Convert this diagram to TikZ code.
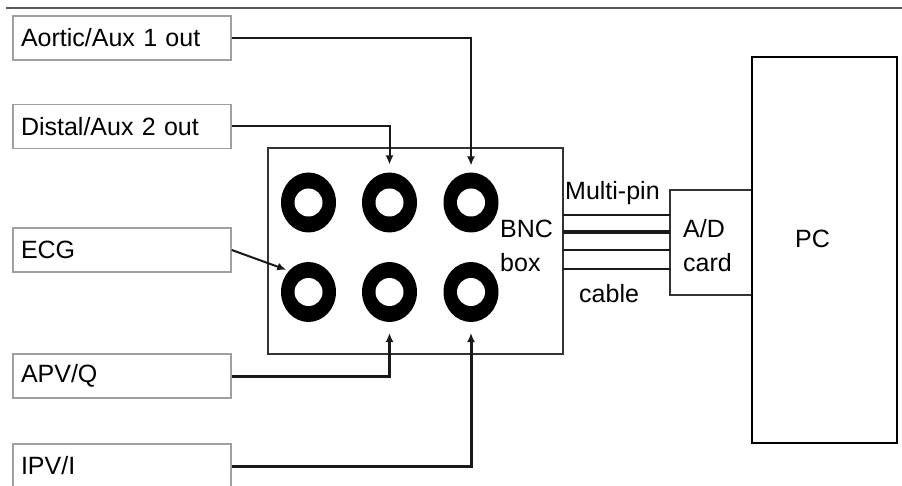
\documentclass[tikz,border=0pt]{standalone}
\usepackage{fontspec}
\setmainfont{Liberation Sans}
\usetikzlibrary{arrows.meta,shapes.geometric}
\tikzset{
  txt/.style={font=\fontsize{25}{34}\selectfont, inner sep=0pt},
  srcbox/.style={draw=gray!75, line width=1.5pt, minimum height=44pt,
    text width=202pt, inner xsep=8pt, align=left, font=\fontsize{25}{34}\selectfont},
  socket/.style={ellipse, fill=black, minimum width=55pt, minimum height=60pt,
    inner sep=0pt, outer sep=0pt,
    path picture={\fill[white] (path picture bounding box.center) circle (14pt);}},
  conn/.style={->, line width=2pt, black!90},
  unit/.style={draw, inner sep=0pt, outer sep=0pt},
}
\begin{document}
\begin{tikzpicture}[x=1pt,y=-1pt,>={Latex[length=9pt,width=8pt]}]
  \clip (0,0) rectangle (902,486);
  % top rule
  \draw[line width=2pt, black!65] (6,8) -- (902,8);
  % signal sources
  \node[srcbox] (aortic) at (122,38) {Aortic/Aux 1 out};
  \node[srcbox] (distal) at (122,126.5) {Distal/Aux 2 out};
  \node[srcbox] (ecg) at (122,250) {ECG};
  \node[srcbox] (apvq) at (122,376) {APV/Q};
  \node[srcbox] (ipvi) at (122,466) {IPV/I};
  % BNC box
  \node[unit, black!80, line width=2pt, minimum width=295pt, minimum height=206pt] (bnc) at (415.5,251) {};
  \foreach \r/\y in {1/202.5,2/292}
    \foreach \c/\x in {1/308.5,2/389.5,3/471}
      \node[socket] (s\r\c) at (\x,\y) {};
  \node[txt, anchor=west, align=left] (bnclbl) at (500,246) {BNC\\box};
  % A/D card and PC
  \node[unit, black!80, line width=2pt, minimum width=82pt, minimum height=105pt] (adcard) at (711,242.5) {};
  \node[txt, anchor=west, align=left] (adlbl) at (683,246) {A/D\\card};
  \node[unit, black, line width=2.5pt, minimum width=145pt, minimum height=386pt] (pc) at (824.5,250) {};
  \node[txt, anchor=base west] (pclbl) at (795,248) {PC};
  % multi-pin cable
  \foreach \y/\w in {215/2,232/3.5,250/2.5,269/2}
    \draw[line width=\w pt, black!90] (bnc.east |- 0,\y) -- (adcard.west |- 0,\y);
  \node[txt, anchor=base west] (pinlbl) at (565,200) {Multi-pin};
  \node[txt, anchor=base west] (cablelbl) at (579,302) {cable};
  % connections
  \draw[conn, shorten >=7pt] (aortic.east) -| (s13.north);
  \draw[conn, shorten >=8pt] (distal.east) -| (s12.north);
  \draw[conn, shorten >=3pt] (ecg.east) -- (s21.north west);
  \draw[conn, line width=3pt, shorten >=11pt] (apvq.east) -| (s22.south);
  \draw[conn, line width=3pt, shorten >=11pt] (ipvi.east) -| (s23.south);
\end{tikzpicture}
\end{document}
